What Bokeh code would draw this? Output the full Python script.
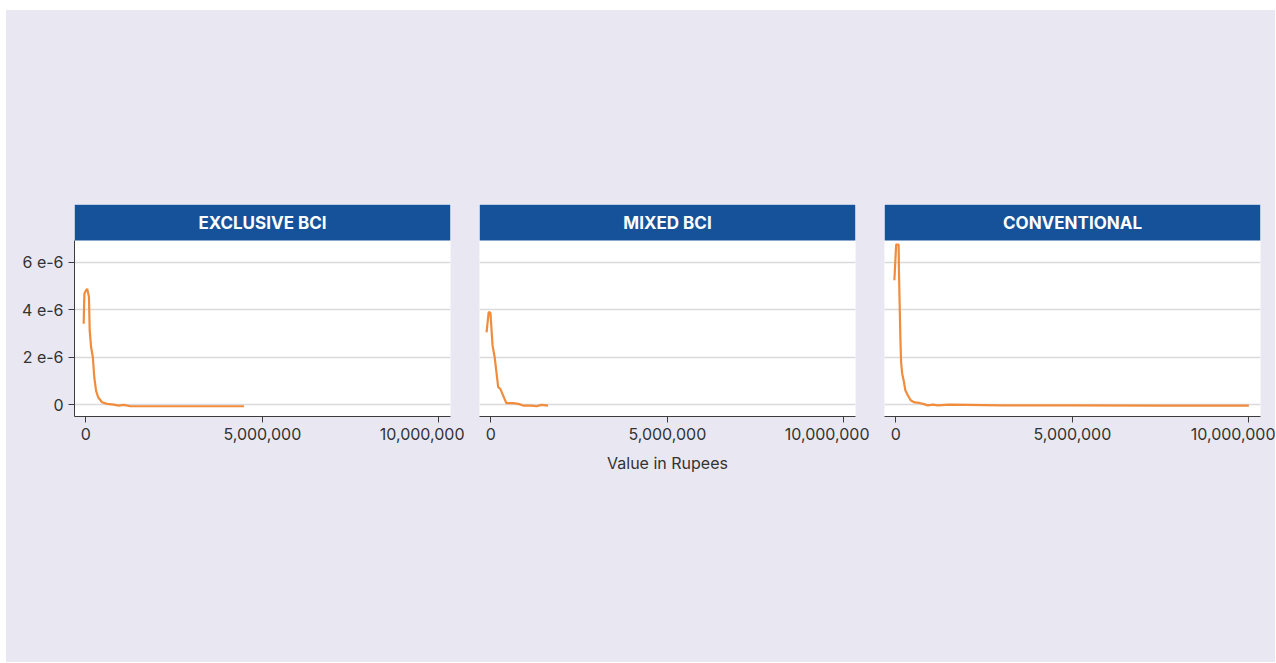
from bokeh.plotting import figure
from bokeh.layouts import row
from bokeh.models import (Range1d, FixedTicker, NumeralTickFormatter, CustomJSTickFormatter,
                          BoxAnnotation, Label)
from bokeh.embed import file_html
from bokeh.resources import INLINE

# ---------------- data (x in rupees, density values) ----------------
panel_titles = ["EXCLUSIVE BCI", "MIXED BCI", "CONVENTIONAL"]

excl_x = [-0.06e6, -0.04e6, 0.0, 0.04e6, 0.09e6, 0.11e6, 0.15e6, 0.20e6, 0.24e6, 0.29e6,
          0.35e6, 0.46e6, 0.60e6, 0.79e6, 0.93e6, 1.07e6, 1.26e6, 2.0e6, 3.0e6, 4.48e6]
excl_y = [3.41e-6, 4.67e-6, 4.80e-6, 4.88e-6, 4.53e-6, 3.13e-6, 2.42e-6, 2.00e-6, 1.16e-6, 0.60e-6,
          0.32e-6, 0.11e-6, 0.04e-6, 0.01e-6, -0.03e-6, 0.0, -0.06e-6, -0.06e-6, -0.06e-6, -0.06e-6]

mixed_x = [-0.12e6, -0.06e6, -0.01e6, 0.05e6, 0.11e6, 0.21e6, 0.27e6, 0.35e6, 0.44e6, 0.63e6,
           0.78e6, 0.92e6, 1.15e6, 1.29e6, 1.44e6, 1.62e6]
mixed_y = [3.05e-6, 3.90e-6, 3.87e-6, 2.49e-6, 2.00e-6, 0.74e-6, 0.67e-6, 0.39e-6, 0.07e-6, 0.07e-6,
           0.04e-6, -0.03e-6, -0.03e-6, -0.06e-6, 0.0, -0.03e-6]

conv_x = [-0.04e6, 0.01e6, 0.08e6, 0.09e6, 0.11e6, 0.13e6, 0.15e6, 0.18e6, 0.23e6, 0.27e6,
          0.34e6, 0.42e6, 0.53e6, 0.67e6, 0.77e6, 0.91e6, 1.05e6, 1.19e6, 1.52e6, 3.0e6,
          5.0e6, 7.5e6, 10.0e6]
conv_y = [5.24e-6, 6.74e-6, 6.74e-6, 5.60e-6, 4.19e-6, 2.79e-6, 1.81e-6, 1.32e-6, 0.97e-6, 0.61e-6,
          0.40e-6, 0.19e-6, 0.10e-6, 0.08e-6, 0.04e-6, -0.02e-6, 0.01e-6, -0.02e-6, 0.01e-6, -0.02e-6,
          -0.02e-6, -0.03e-6, -0.03e-6]

x_ticks = [0, 5_000_000, 10_000_000]
y_ticks = [0, 2e-6, 4e-6, 6e-6]
x_label = "Value in Rupees"

# ---------------- styling / layout ----------------
BG = "#E9E8F2"
BLUE = "#16529A"
ORANGE = "#F08C3C"
GRID = "#D9D9DE"
AXIS = "#3C3C3C"
TEXT = "#333333"
FONT = "Inter"

X_START, X_END = -0.32e6, 10.33e6
Y_START, Y_HEADER, Y_TOP = -0.49e-6, 6.91e-6, 8.424e-6

FRAME_W, FRAME_H = 376, 212
TOP_B, H_TOTAL = 194, 652
BOTTOM_B = H_TOTAL - TOP_B - FRAME_H

series = [(excl_x, excl_y), (mixed_x, mixed_y), (conv_x, conv_y)]
borders = [(68, 14), (15, 14), (15, 15)]

figs = []
for i, ((xs, ys), title) in enumerate(zip(series, panel_titles)):
    lb, rb = borders[i]
    p = figure(frame_width=FRAME_W, frame_height=FRAME_H,
               x_range=Range1d(X_START, X_END), y_range=Range1d(Y_START, Y_TOP),
               output_backend="svg", toolbar_location=None,
               min_border_left=lb, min_border_right=rb,
               min_border_top=TOP_B, min_border_bottom=BOTTOM_B)
    p.background_fill_color = "white"
    p.border_fill_color = BG
    p.outline_line_color = None

    p.xgrid.visible = False
    p.ygrid.ticker = FixedTicker(ticks=y_ticks)
    p.ygrid.grid_line_color = GRID
    p.ygrid.grid_line_width = 1.5

    xa = p.xaxis[0]
    xa.ticker = FixedTicker(ticks=x_ticks)
    xa.formatter = NumeralTickFormatter(format="0,0")
    xa.minor_tick_line_color = None
    xa.major_tick_in = 0
    xa.major_tick_out = 6
    xa.major_label_standoff = 5
    xa.axis_line_color = AXIS
    xa.major_tick_line_color = AXIS
    xa.major_label_text_color = TEXT
    xa.major_label_text_font = FONT
    xa.major_label_text_font_size = "16px"
    if i == 1:
        xa.axis_label = x_label
        xa.axis_label_text_font = FONT
        xa.axis_label_text_font_size = "16px"
        xa.axis_label_text_font_style = "normal"
        xa.axis_label_text_color = TEXT
        xa.axis_label_standoff = 10

    ya = p.yaxis[0]
    if i == 0:
        ya.ticker = FixedTicker(ticks=y_ticks)
        ya.formatter = CustomJSTickFormatter(
            code="if (tick == 0) { return '0'; } return Math.round(tick * 1e6) + ' e-6';")
        ya.bounds = (Y_START, Y_HEADER)
        ya.minor_tick_line_color = None
        ya.major_tick_in = 0
        ya.major_tick_out = 6
        ya.axis_line_color = AXIS
        ya.major_tick_line_color = AXIS
        ya.major_label_text_color = TEXT
        ya.major_label_text_font = FONT
        ya.major_label_text_font_size = "16px"
    else:
        ya.visible = False

    p.line(xs, ys, line_color=ORANGE, line_width=2.2)

    p.add_layout(BoxAnnotation(bottom=Y_HEADER, top=Y_TOP, left=X_START, right=X_END,
                               fill_color=BLUE, fill_alpha=1.0, line_color=None, level="overlay"))
    p.add_layout(Label(x=(X_START + X_END) / 2, y=(Y_HEADER + Y_TOP) / 2, text=title,
                       text_align="center", text_baseline="middle", text_color="white",
                       text_font=FONT, text_font_style="bold", text_font_size="17px",
                       level="overlay"))
    figs.append(p)

layout = row(*figs, spacing=0, margin=(10, 0, 0, 6),
             styles={"background-color": BG})
open("out.html", "w").write(file_html(layout, INLINE))
